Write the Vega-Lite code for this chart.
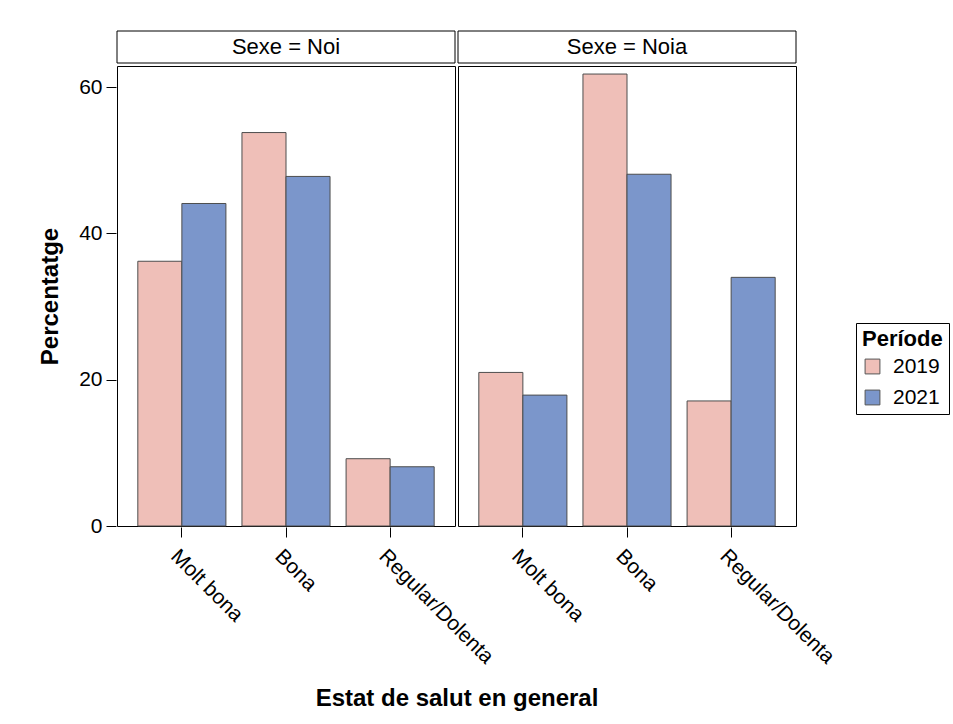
{
  "$schema": "https://vega.github.io/schema/vega-lite/v6.json",
  "background": "white",
  "padding": {"left": 38, "top": 30, "right": 5, "bottom": 5},
  "config": {
    "font": "Liberation Sans",
    "view": {"stroke": "black", "strokeWidth": 1},
    "axis": {"labelFont": "Liberation Sans", "titleFont": "Liberation Sans", "labelColor": "black", "titleColor": "black", "tickColor": "black", "domainColor": "black"}
  },
  "datasets": {
    "headers": [
      {"Sexe": "Noi", "label": "Sexe = Noi"},
      {"Sexe": "Noia", "label": "Sexe = Noia"}
    ],
    "bars": [
      {"Sexe": "Noi", "Estat": "Molt bona", "Periode": "2019", "Percentatge": 36.2},
      {"Sexe": "Noi", "Estat": "Molt bona", "Periode": "2021", "Percentatge": 44.1},
      {"Sexe": "Noi", "Estat": "Bona", "Periode": "2019", "Percentatge": 53.8},
      {"Sexe": "Noi", "Estat": "Bona", "Periode": "2021", "Percentatge": 47.8},
      {"Sexe": "Noi", "Estat": "Regular/Dolenta", "Periode": "2019", "Percentatge": 9.2},
      {"Sexe": "Noi", "Estat": "Regular/Dolenta", "Periode": "2021", "Percentatge": 8.1},
      {"Sexe": "Noia", "Estat": "Molt bona", "Periode": "2019", "Percentatge": 21.0},
      {"Sexe": "Noia", "Estat": "Molt bona", "Periode": "2021", "Percentatge": 17.9},
      {"Sexe": "Noia", "Estat": "Bona", "Periode": "2019", "Percentatge": 61.8},
      {"Sexe": "Noia", "Estat": "Bona", "Periode": "2021", "Percentatge": 48.1},
      {"Sexe": "Noia", "Estat": "Regular/Dolenta", "Periode": "2019", "Percentatge": 17.1},
      {"Sexe": "Noia", "Estat": "Regular/Dolenta", "Periode": "2021", "Percentatge": 34.0}
    ]
  },
  "spacing": 1,
  "vconcat": [
    {
      "data": {"name": "headers"},
      "facet": {"column": {"field": "Sexe", "type": "nominal", "header": null}},
      "spacing": 1,
      "spec": {
        "width": 338,
        "height": 32,
        "layer": [
          {"mark": {"type": "rect", "fill": "white", "stroke": "black", "strokeWidth": 1}, "encoding": {}},
          {"mark": {"type": "text", "fontSize": 22, "font": "Liberation Sans", "color": "black"}, "encoding": {"text": {"field": "label", "type": "nominal"}}}
        ]
      }
    },
    {
      "data": {"name": "bars"},
      "facet": {"column": {"field": "Sexe", "type": "nominal", "title": "Estat de salut en general", "header": {"labels": false, "titleOrient": "bottom", "titleFontSize": 24, "titleFontWeight": "bold", "titleColor": "black", "titleFont": "Liberation Sans", "titlePadding": 9}}},
      "spacing": 1,
      "spec": {
        "width": 338,
        "height": 460,
        "mark": {"type": "bar", "stroke": "#4d4d4d", "strokeWidth": 1},
        "encoding": {
          "x": {
            "field": "Estat", "type": "nominal",
            "sort": ["Molt bona", "Bona", "Regular/Dolenta"],
            "scale": {"paddingInner": 0.154, "paddingOuter": 0.2},
            "axis": {"title": null, "labelFontSize": 21, "labelAngle": 45, "labelAlign": "left", "labelBaseline": "top", "tickSize": 10, "labelPadding": 8, "domain": false}
          },
          "xOffset": {"field": "Periode", "type": "nominal", "scale": {"paddingInner": 0, "paddingOuter": 0}},
          "y": {
            "field": "Percentatge", "type": "quantitative",
            "scale": {"domain": [0, 62.9], "nice": false},
            "axis": {"title": "Percentatge", "titleFontSize": 24, "titleFontWeight": "bold", "titlePadding": 16, "labelFontSize": 21, "values": [0, 20, 40, 60], "grid": false, "tickSize": 10, "labelPadding": 4, "domain": false}
          },
          "color": {
            "field": "Periode", "type": "nominal", "title": "Període",
            "scale": {"domain": ["2019", "2021"], "range": ["#EFBFB8", "#7B96CB"]},
            "legend": {"orient": "none", "legendX": 739, "legendY": 292, "strokeColor": "black", "padding": 6, "titleFontSize": 22, "titleFontWeight": "bold", "titleColor": "black", "labelFontSize": 21, "labelColor": "black", "symbolType": "square", "symbolSize": 220, "symbolStrokeColor": "#555", "symbolStrokeWidth": 1, "rowPadding": 9, "labelOffset": 10}
          }
        }
      }
    }
  ]
}
